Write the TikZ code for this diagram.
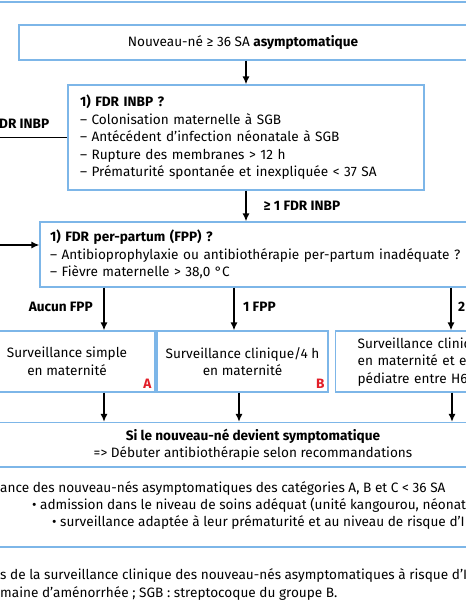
\documentclass[tikz,border=0pt]{standalone}
\usepackage{fontspec}
\setmainfont{Fira Sans}
\usetikzlibrary{arrows.meta, positioning}

\definecolor{lineblue}{RGB}{125,182,232}
\definecolor{markred}{RGB}{226,30,40}
\newcommand{\fs}{\fontsize{13.6}{17.5}\selectfont}

\tikzset{
  box/.style={draw=lineblue, line width=1.2pt, fill=white, inner sep=0pt},
  arr/.style={line width=1.4pt, -{Latex[length=8pt,width=7pt]}},
  conn/.style={line width=1.4pt},
  lab/.style={font=\fs\bfseries, inner sep=0pt},
  txt/.style={anchor=base west, inner sep=0pt},
  catmark/.style={font=\fs\bfseries, text=markred, inner sep=0pt, anchor=south east}
}

\begin{document}
\begin{tikzpicture}[x=1pt, y=-1pt, font=\fs]
    \useasboundingbox[fill=white] (0,0) rectangle (466,600);
    \clip (0,0) rectangle (466,600);
    \draw[lineblue, line width=2pt] (-5,2) -- (475,2);

    \node[box, minimum width=448, minimum height=35] (nne) at (243,42.5)
        {Nouveau-né ≥ 36 SA \textbf{asymptomatique}};
    \node[box, minimum width=356, minimum height=105, text width=332, inner xsep=12, align=left] (inbp) at (246,137.5)
        {\textbf{1) FDR INBP ?}\\– Colonisation maternelle à SGB\\– Antécédent d’infection néonatale à SGB\\– Rupture des membranes > 12 h\\– Prématurité spontanée et inexpliquée < 37 SA};
    \node[box, minimum width=480, minimum height=65, text width=460, inner xsep=10, align=left] (fpp) at (280,254.5)
        {\textbf{1) FDR per-partum (FPP) ?}\\– Antibioprophylaxie ou antibiothérapie per-partum inadéquate ?\\– Fièvre maternelle > 38,0 °C};

    \node[box, minimum width=176, minimum height=61, align=center] (boxa) at (67,361.5)
        {Surveillance simple\\en maternité};
    \node[box, minimum width=171, minimum height=61, align=center] (boxb) at (242.5,361.5)
        {Surveillance clinique/4 h\\en maternité};
    \node[box, minimum width=222, minimum height=61, text width=200, inner xsep=22, align=left, anchor=west] (boxc) at (335,361.5)
        {Surveillance clinique/4 h\\en maternité et examen\\pédiatre entre H6 et H12};
    \node[catmark] at ([shift={(-4,-4)}]boxa.south east) {A};
    \node[catmark] at ([shift={(-4,-4)}]boxb.south east) {B};

    \node[box, minimum width=560, minimum height=44.5, align=center] (fin) at (253,444.75)
        {\textbf{Si le nouveau-né devient symptomatique}\\=> Débuter antibiothérapie selon recommandations};
    \node[box, minimum width=560, minimum height=80] (note) at (253,507) {};
    \node[txt] at (0,492) {ance des nouveau-nés asymptomatiques des catégories A, B et C < 36 SA};
    \node[txt] at (32,509) {• admission dans le niveau de soins adéquat (unité kangourou, néonatologie)};
    \node[txt] at (52,526) {• surveillance adaptée à leur prématurité et au niveau de risque d’INBP};
    \node[txt] at (0,579) {s de la surveillance clinique des nouveau-nés asymptomatiques à risque d’INBP};
    \node[txt] at (0,597) {maine d’aménorrhée ; SGB : streptocoque du groupe B.};

    \coordinate (inbp0) at (-5,137.5);
    \coordinate (fpp0) at (-5,245);
    \node[lab, anchor=base west] at (-1,128) {DR INBP};
    \draw[conn] (inbp0) -- (inbp.west);
    \draw[arr] (fpp0) -- (fpp0 -| fpp.west);

    \draw[arr] (inbp.north |- nne.south) -- (inbp.north);
    \draw[arr] (inbp.south) -- (inbp.south |- fpp.north)
        node[lab, anchor=west, pos=0.5, xshift=17] {≥ 1 FDR INBP};

    \foreach \n/\x in {boxa/104, boxb/234, boxc/451}
        \draw[arr] (fpp.south -| \x,0) -- (\n.north -| \x,0);
    \node[lab, anchor=base east] at (93,311) {Aucun FPP};
    \node[lab, anchor=base west] at (243,311) {1 FPP};
    \node[lab, anchor=base west] at (458,311) {2 FPP};

    \foreach \n/\x in {boxa/104, boxb/239, boxc/452}
        \draw[arr] (\n.south -| \x,0) -- (fin.north -| \x,0);
\end{tikzpicture}
\end{document}
